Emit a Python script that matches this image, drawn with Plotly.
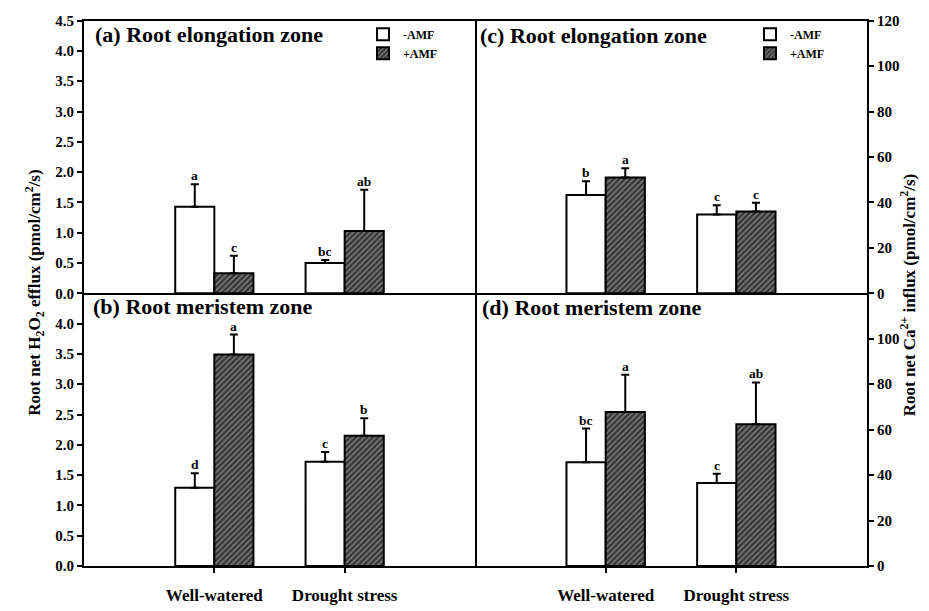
import plotly.graph_objects as go

categories = ["Well-watered", "Drought stress"]
cat_pos = [1, 2]

# (a) H2O2 elongation zone
a_minus = [1.43, 0.50]
a_minus_err = [0.37, 0.05]
a_plus = [0.33, 1.03]
a_plus_err = [0.29, 0.68]
a_labels_minus = ["a", "bc"]
a_labels_plus = ["c", "ab"]

# (b) H2O2 meristem zone
b_minus = [1.29, 1.72]
b_minus_err = [0.24, 0.16]
b_plus = [3.49, 2.15]
b_plus_err = [0.33, 0.29]
b_labels_minus = ["d", "c"]
b_labels_plus = ["a", "b"]

# (c) Ca2+ elongation zone
c_minus = [43.3, 34.7]
c_minus_err = [6.0, 4.1]
c_plus = [51.0, 36.0]
c_plus_err = [4.0, 3.9]
c_labels_minus = ["b", "c"]
c_labels_plus = ["a", "c"]

# (d) Ca2+ meristem zone
d_minus = [45.7, 36.5]
d_minus_err = [14.8, 4.1]
d_plus = [67.8, 62.4]
d_plus_err = [16.4, 18.4]
d_labels_minus = ["bc", "c"]
d_labels_plus = ["a", "ab"]

h2o2_ticks_top = [0, 0.5, 1.0, 1.5, 2.0, 2.5, 3.0, 3.5, 4.0, 4.5]
h2o2_ticks_bot = [0, 0.5, 1.0, 1.5, 2.0, 2.5, 3.0, 3.5, 4.0]
ca_ticks_top = [0, 20, 40, 60, 80, 100, 120]
ca_ticks_bot = [0, 20, 40, 60, 80, 100]

W, H = 929, 611
FONT = "Liberation Serif"

xL0, xM, xR1 = 84 / W, 475 / W, 867 / W
yB0, yM, yT1 = 1 - 573 / H, 1 - 293 / H, 1 - 13 / H

fig = go.Figure()

hatch = dict(shape="/", bgcolor="#353535", fgcolor="#c0c0c0", size=4, solidity=0.4)

panels = [
    ("x", "y", a_minus, a_minus_err, a_plus, a_plus_err, a_labels_minus, a_labels_plus, "legend", True),
    ("x2", "y2", b_minus, b_minus_err, b_plus, b_plus_err, b_labels_minus, b_labels_plus, "legend", False),
    ("x3", "y3", c_minus, c_minus_err, c_plus, c_plus_err, c_labels_minus, c_labels_plus, "legend2", True),
    ("x4", "y4", d_minus, d_minus_err, d_plus, d_plus_err, d_labels_minus, d_labels_plus, "legend2", False),
]

letter_font = dict(family=FONT, size=13.5, color="black", weight="bold")
annotations = []
for xa, ya, vm, em, vp, ep, lm, lp, leg, show in panels:
    fig.add_trace(go.Bar(
        x=cat_pos, y=vm, name="-AMF", xaxis=xa, yaxis=ya,
        marker=dict(color="white", line=dict(color="black", width=2)),
        error_y=dict(type="data", array=em, arrayminus=[0] * len(em), symmetric=False,
                     color="black", thickness=2, width=4),
        showlegend=show, legend=leg,
    ))
    fig.add_trace(go.Bar(
        x=cat_pos, y=vp, name="+AMF", xaxis=xa, yaxis=ya,
        marker=dict(color="#353535", pattern=hatch, line=dict(color="black", width=2)),
        error_y=dict(type="data", array=ep, arrayminus=[0] * len(ep), symmetric=False,
                     color="black", thickness=2, width=4),
        showlegend=show, legend=leg,
    ))
    for i, c in enumerate(cat_pos):
        annotations.append(dict(x=c - 0.15, y=vm[i] + em[i], xref=xa, yref=ya, text=lm[i],
                                showarrow=False, yanchor="bottom", yshift=0, borderpad=0,
                                font=letter_font))
        annotations.append(dict(x=c + 0.15, y=vp[i] + ep[i], xref=xa, yref=ya, text=lp[i],
                                showarrow=False, yanchor="bottom", yshift=0, borderpad=0,
                                font=letter_font))

titles = [
    ("(a) Root elongation zone", 94 / W, 1 - 27 / H),
    ("(b) Root meristem zone", 92 / W, 1 - 307 / H),
    ("(c) Root elongation zone", 479 / W, 1 - 28 / H),
    ("(d) Root meristem zone", 481 / W, 1 - 308 / H),
]
for t, x, y in titles:
    annotations.append(dict(x=x, y=y, xref="paper", yref="paper", text=t, showarrow=False,
                            xanchor="left", yanchor="middle", borderpad=0,
                            font=dict(family=FONT, size=22, color="black", weight="bold")))

annotations.append(dict(x=20 / W, y=1 - 293 / H, xref="paper", yref="paper", textangle=-90,
                        text="Root net H<sub>2</sub>O<sub>2</sub> efflux (pmol/cm<sup>2</sup>/s)",
                        showarrow=False, font=dict(family=FONT, size=17, color="black", weight="bold")))
annotations.append(dict(x=921 / W, y=1 - 295 / H, xref="paper", yref="paper", textangle=-90,
                        text="Root net Ca<sup>2+</sup> influx (pmol/cm<sup>2</sup>/s)",
                        showarrow=False, font=dict(family=FONT, size=17, color="black", weight="bold")))

tickfont = dict(family=FONT, size=15, color="black", weight="bold")
xtickfont = dict(family=FONT, size=17, color="black", weight="bold")
base = dict(showline=True, linecolor="black", linewidth=2, showgrid=False, zeroline=False)
yt = dict(ticks="outside", ticklen=5, tickwidth=2, tickcolor="black", tickfont=tickfont)

fig.update_layout(
    width=W, height=H,
    margin=dict(l=0, r=0, t=0, b=0),
    paper_bgcolor="white", plot_bgcolor="white",
    barmode="group", bargap=0.4, bargroupgap=0,
    annotations=annotations,
    xaxis=dict(domain=[xL0, xM], anchor="y", range=[0, 3], tickvals=cat_pos, showticklabels=False,
               ticks="", mirror=True, **base),
    xaxis3=dict(domain=[xM, xR1], anchor="y3", range=[0, 3], tickvals=cat_pos, showticklabels=False,
                ticks="", mirror=True, **base),
    xaxis2=dict(domain=[xL0, xM], anchor="y2", range=[0, 3], tickvals=cat_pos, ticktext=categories,
                tickfont=xtickfont, ticks="outside", ticklen=5, tickwidth=2, tickcolor="black",
                ticklabelstandoff=8, mirror=False, **base),
    xaxis4=dict(domain=[xM, xR1], anchor="y4", range=[0, 3], tickvals=cat_pos, ticktext=categories,
                tickfont=xtickfont, ticks="outside", ticklen=5, tickwidth=2, tickcolor="black",
                ticklabelstandoff=8, mirror=False, **base),
    yaxis=dict(domain=[yM, yT1], anchor="x", range=[0, 4.5], tickvals=h2o2_ticks_top, tickformat=".1f",
               mirror=True, **yt, **base),
    yaxis2=dict(domain=[yB0, yM], anchor="x2", range=[0, 4.5], tickvals=h2o2_ticks_bot, tickformat=".1f",
                mirror=True, **yt, **base),
    yaxis3=dict(domain=[yM, yT1], anchor="x3", side="right", range=[0, 120], tickvals=ca_ticks_top,
                mirror=False, **yt, **base),
    yaxis4=dict(domain=[yB0, yM], anchor="x4", side="right", range=[0, 120], tickvals=ca_ticks_bot,
                mirror=False, **yt, **base),
    legend=dict(x=363 / W, y=1 - 12 / H, xanchor="left", yanchor="top", bgcolor="rgba(0,0,0,0)",
                font=dict(family=FONT, size=12, color="black", weight="bold"), tracegroupgap=0,
                itemsizing="constant"),
    legend2=dict(x=750 / W, y=1 - 12 / H, xanchor="left", yanchor="top", bgcolor="rgba(0,0,0,0)",
                 font=dict(family=FONT, size=12, color="black", weight="bold"), tracegroupgap=0,
                 itemsizing="constant"),
)

fig.write_html("out.html")
